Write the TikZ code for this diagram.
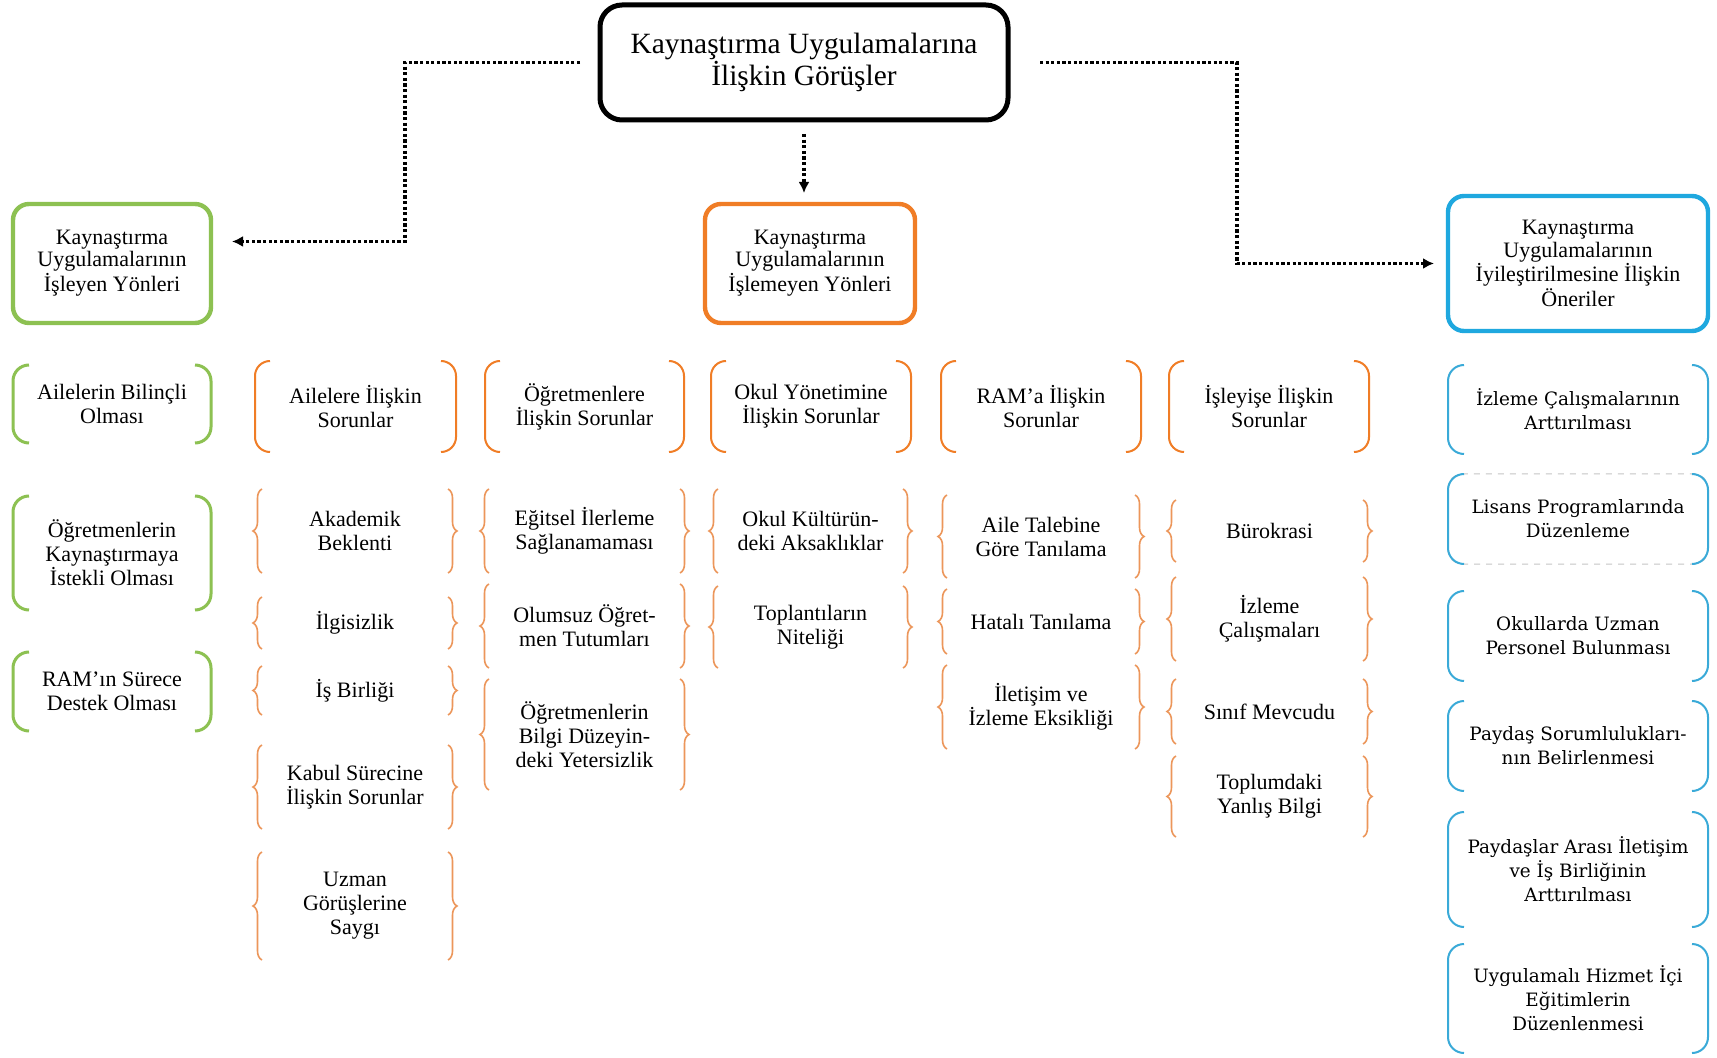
\documentclass[tikz,border=0pt]{standalone}
\usepackage{fontspec}
\setmainfont{Liberation Serif}
\newfontfamily\bluefont{DejaVu Serif}
\usetikzlibrary{arrows.meta,decorations.pathreplacing,calc}
\definecolor{cgreen}{HTML}{8DC152}
\definecolor{corange}{HTML}{F07D26}
\definecolor{cbrace}{HTML}{EC965A}
\definecolor{cblue}{HTML}{1FA8DF}
\definecolor{cbluel}{HTML}{3AAAD8}
\newcommand{\mkparen}[3]{%
  \draw[#1] ([xshift=#3]#2.north west) to[out=180,in=90] ([yshift=-#3]#2.north west) -- ([yshift=#3]#2.south west) to[out=-90,in=180] ([xshift=#3]#2.south west);
  \draw[#1] ([xshift=-#3]#2.north east) to[out=0,in=90] ([yshift=-#3]#2.north east) -- ([yshift=#3]#2.south east) to[out=-90,in=0] ([xshift=-#3]#2.south east);}
\newcommand{\mkbrace}[2]{%
  \draw[#1] (#2.south west) -- (#2.north west);
  \draw[#1] (#2.north east) -- (#2.south east);}
\newcommand{\uplines}[1]{\raisebox{4pt}{\begin{tabular}{@{}c@{}}#1\end{tabular}}}
\tikzset{
  every node/.style={inner sep=0pt, outer sep=0pt, align=center, font=\fontsize{11}{12}\selectfont},
  topbox/.style={draw=black, line width=2.5pt, rounded corners=11pt, font=\fontsize{14.7}{15}\selectfont},
  lvtwo/.style={draw=#1, line width=2.2pt, rounded corners=8pt, font=\fontsize{11}{11.2}\selectfont},
  bluetxt/.style={font=\bluefont\fontsize{9.2}{12}\selectfont},
  gpar/.style={draw=cgreen, line width=1.5pt},
  opar/.style={draw=corange, line width=1pt},
  bpar/.style={draw=cbluel, line width=1pt},
  obrace/.style={draw=cbrace, line width=0.8pt, decorate, decoration={brace, amplitude=4.5pt}},
  conn/.style={line width=1.6pt, dash pattern=on 1.6pt off 1.2pt, -{Latex[length=5.5pt,width=5.5pt]}},
}
\begin{document}
\begin{tikzpicture}[x=0.5pt,y=-0.5pt]
\fill[white] (0,0) rectangle (1717,1058);
\useasboundingbox (0,0) rectangle (1717,1058);

% top
\node[topbox, minimum width=204pt, minimum height=57.5pt] (top) at (804,62.5) {Kaynaştırma Uygulamalarına\\İlişkin Görüşler};

% level 2
\node[lvtwo=cgreen, minimum width=99pt, minimum height=59.5pt] (green) at (112,263.5) {\uplines{Kaynaştırma\\Uygulamalarının\\İşleyen Yönleri}};
\node[lvtwo=corange, minimum width=105pt, minimum height=59.5pt] (orange) at (810,263.5) {\uplines{Kaynaştırma\\Uygulamalarının\\İşlemeyen Yönleri}};
\node[lvtwo=cblue, minimum width=130pt, minimum height=67.5pt] (blue) at (1578,263.5) {Kaynaştırma\\Uygulamalarının\\İyileştirilmesine İlişkin\\Öneriler};

% connectors
\coordinate (lb) at (405,150);
\coordinate (rb) at (1237,160);
\draw[conn, shorten <=10pt, shorten >=10.5pt] (top.west) -| (lb) |- ([yshift=11pt]green.east);
\draw[conn, shorten <=16pt, shorten >=7pt] (top.east) -| (rb) |- (blue.west);
\draw[conn, shorten <=7pt, shorten >=5.5pt] (top.south) -- (top.south |- orange.north);

% green column
\node[minimum width=99pt, minimum height=39pt] (g1) at (112,404) {Ailelerin Bilinçli\\Olması};
\node[minimum width=99pt, minimum height=57pt] (g2) at (112,553) {Öğretmenlerin\\Kaynaştırmaya\\İstekli Olması};
\node[minimum width=99pt, minimum height=39.5pt] (g3) at (112,691.5) {RAM’ın Sürece\\Destek Olması};
\mkparen{gpar}{g1}{8pt}
\mkparen{gpar}{g2}{8pt}
\mkparen{gpar}{g3}{8pt}

% orange headers
\node[minimum width=100.5pt, minimum height=45.5pt] (h1) at (355.5,406.5) {Ailelere İlişkin\\Sorunlar};
\node[minimum width=99.5pt, minimum height=45.5pt] (h2) at (584.5,406.5) {Öğretmenlere\\İlişkin Sorunlar};
\node[minimum width=100pt, minimum height=45.5pt] (h3) at (811,406.5) {Okul Yönetimine\\İlişkin Sorunlar};
\node[minimum width=100pt, minimum height=45.5pt] (h4) at (1041,406.5) {RAM’a İlişkin\\Sorunlar};
\node[minimum width=100pt, minimum height=45.5pt] (h5) at (1269,406.5) {İşleyişe İlişkin\\Sorunlar};
\mkparen{opar}{h1}{7.5pt}
\mkparen{opar}{h2}{7.5pt}
\mkparen{opar}{h3}{7.5pt}
\mkparen{opar}{h4}{7.5pt}
\mkparen{opar}{h5}{7.5pt}

% column 1 items
\node[minimum width=93pt, minimum height=42pt] (c1a) at (355,531) {Akademik\\Beklenti};
\node[minimum width=93pt, minimum height=26pt] (c1b) at (355,623) {İlgisizlik};
\node[minimum width=93pt, minimum height=24.5pt] (c1c) at (355,690.5) {İş Birliği};
\node[minimum width=93pt, minimum height=42pt] (c1d) at (355,787) {Kabul Sürecine\\İlişkin Sorunlar};
\node[minimum width=93pt, minimum height=54pt] (c1e) at (355,906) {Uzman\\Görüşlerine\\Saygı};
% column 2 items
\node[minimum width=95.5pt, minimum height=42pt] (c2a) at (584.5,531) {Eğitsel İlerleme\\Sağlanamaması};
\node[minimum width=95.5pt, minimum height=42pt] (c2b) at (584.5,626) {Olumsuz Öğret-\\men Tutumları};
\node[minimum width=95.5pt, minimum height=55.5pt] (c2c) at (584.5,734.5) {Öğretmenlerin\\Bilgi Düzeyin-\\deki Yetersizlik};
% column 3 items
\node[minimum width=92.5pt, minimum height=42pt] (c3a) at (810.5,531) {Okul Kültürün-\\deki Aksaklıklar};
\node[minimum width=92.5pt, minimum height=41pt] (c3b) at (810.5,627) {Toplantıların\\Niteliği};
% column 4 items
\node[minimum width=94pt, minimum height=41.5pt] (c4a) at (1041,536.5) {Aile Talebine\\Göre Tanılama};
\node[minimum width=94pt, minimum height=32.5pt] (c4b) at (1041,621.5) {Hatalı Tanılama};
\node[minimum width=94pt, minimum height=42pt] (c4c) at (1041,707) {İletişim ve\\İzleme Eksikliği};
% column 5 items
\node[minimum width=93.5pt, minimum height=31pt] (c5a) at (1269.5,531) {Bürokrasi};
\node[minimum width=93.5pt, minimum height=42pt] (c5b) at (1269.5,619) {İzleme\\Çalışmaları};
\node[minimum width=93.5pt, minimum height=32.5pt] (c5c) at (1269.5,711.5) {Sınıf Mevcudu};
\node[minimum width=93.5pt, minimum height=40.5pt] (c5d) at (1269.5,796.5) {Toplumdaki\\Yanlış Bilgi};

\foreach \n in {c1a,c1b,c1c,c1d,c1e,c2a,c2b,c2c,c3a,c3b,c4a,c4b,c4c,c5a,c5b,c5c,c5d}{\mkbrace{obrace}{\n}}

% blue column
\node[bluetxt, minimum width=130pt, minimum height=44.5pt] (b1) at (1578,409.5) {İzleme Çalışmalarının\\Arttırılması};
\node[bluetxt, minimum width=130pt, minimum height=45pt] (b2) at (1578,519) {Lisans Programlarında\\Düzenleme};
\node[bluetxt, minimum width=130pt, minimum height=45pt] (b3) at (1578,636) {Okullarda Uzman\\Personel Bulunması};
\node[bluetxt, minimum width=130pt, minimum height=45pt] (b4) at (1578,746) {Paydaş Sorumlulukları-\\nın Belirlenmesi};
\node[bluetxt, minimum width=130pt, minimum height=57.5pt] (b5) at (1578,869.5) {Paydaşlar Arası İletişim\\ve İş Birliğinin\\Arttırılması};
\node[bluetxt, minimum width=130pt, minimum height=54.5pt] (b6) at (1578,998.5) {Uygulamalı Hizmet İçi\\Eğitimlerin\\Düzenlenmesi};
\draw[gray!45, dashed, line width=0.5pt, rounded corners=7pt] (b2.north west) rectangle (b2.south east);
\foreach \n in {b1,b2,b3,b4,b5,b6}{\mkparen{bpar}{\n}{8pt}}
\end{tikzpicture}
\end{document}
